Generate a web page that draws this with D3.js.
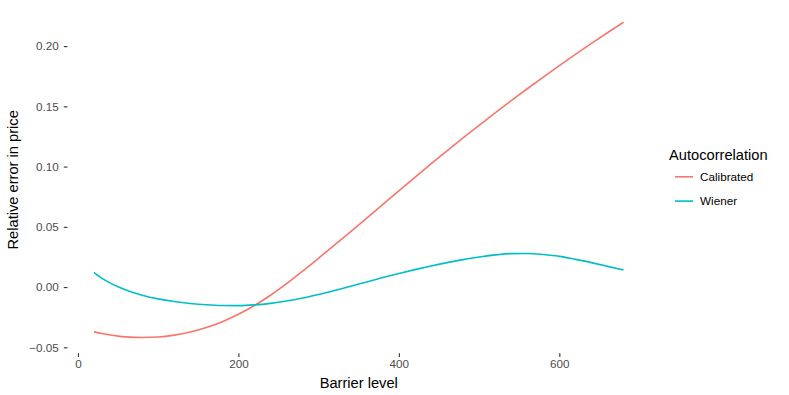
<!DOCTYPE html>
<html>
<head>
<meta charset="utf-8">
<script src="https://cdn.jsdelivr.net/npm/d3@7"></script>
<style>
  body { margin: 0; background: #fff; }
  svg { display: block; font-family: "Liberation Sans", Arial, Helvetica, sans-serif; }
</style>
</head>
<body>
<div id="chart"></div>
<script>
// Barrier levels (x) and relative price errors
const barrier = [20, 30, 40, 50, 60, 80, 100, 120, 140, 160, 180, 200, 220, 240, 260, 280, 300,
                 320, 340, 360, 380, 400, 420, 440, 460, 480, 500, 520, 540, 560, 580, 600,
                 620, 640, 660, 680];
const calibrated = [-0.0372, -0.0386, -0.0398, -0.0407, -0.0413, -0.0418, -0.0414, -0.0399, -0.0373,
                    -0.0336, -0.0287, -0.0226, -0.0153, -0.0068, 0.0028, 0.0132, 0.0240,
                    0.0350, 0.0461, 0.0573, 0.0686, 0.0799, 0.0911, 0.1022, 0.1131, 0.1238,
                    0.1343, 0.1446, 0.1547, 0.1646, 0.1743, 0.1838, 0.1931, 0.2022, 0.2111, 0.2198];
const wiener = [0.0122, 0.0072, 0.0035, 0.0003, -0.0025, -0.0067, -0.0098, -0.0120, -0.0136,
                -0.0147, -0.0153, -0.0154, -0.0148, -0.0135, -0.0116, -0.0091, -0.0061,
                -0.0028, 0.0007, 0.0043, 0.0079, 0.0113, 0.0145, 0.0175, 0.0203, 0.0228,
                0.0250, 0.0267, 0.0278, 0.0279, 0.0270, 0.0255, 0.0230, 0.0203, 0.0172, 0.0141];

const seriesNames = ["Calibrated", "Wiener"];
const seriesColors = ["#F8766D", "#00BFC4"];
const xTicks = [0, 200, 400, 600];
const yTicks = [-0.05, 0, 0.05, 0.10, 0.15, 0.20];

const width = 789, height = 395;
const panel = { left: 67.5, right: 650, top: 6.5, bottom: 353.2 };

const svg = d3.select("#chart").append("svg")
    .attr("width", width)
    .attr("height", height);

// ggplot-style 5% expansion on both axes
const expand = ([a, b]) => [a - (b - a) * 0.05, b + (b - a) * 0.05];

const xScale = d3.scaleLinear()
    .domain(expand(d3.extent(barrier)))
    .range([panel.left, panel.right]);

const yScale = d3.scaleLinear()
    .domain(expand(d3.extent(calibrated.concat(wiener))))
    .range([panel.bottom, panel.top]);

// Axes (no domain line, short grey ticks)
const xAxis = svg.append("g")
    .attr("transform", `translate(0,${panel.bottom})`)
    .call(d3.axisBottom(xScale).tickValues(xTicks).tickSize(3.7).tickPadding(3.1).tickSizeOuter(0));

const yAxis = svg.append("g")
    .attr("transform", `translate(${panel.left},0)`)
    .call(d3.axisLeft(yScale).tickValues(yTicks).tickFormat(d3.format(".2f")).tickSize(3.7).tickPadding(5).tickSizeOuter(0));

[xAxis, yAxis].forEach(ax => {
    ax.select(".domain").remove();
    ax.selectAll(".tick line").attr("stroke", "#333333").attr("stroke-width", 1.1);
    ax.selectAll(".tick text")
        .attr("fill", "#4D4D4D")
        .style("font-size", "11.7px")
        .style("font-family", "\"Liberation Sans\", Arial, sans-serif");
});

// Axis titles
svg.append("text")
    .attr("x", (panel.left + panel.right) / 2)
    .attr("y", 388)
    .attr("text-anchor", "middle")
    .style("font-size", "14.67px")
    .text("Barrier level");

svg.append("text")
    .attr("transform", `translate(18,${(panel.top + panel.bottom) / 2}) rotate(-90)`)
    .attr("text-anchor", "middle")
    .style("font-size", "14.67px")
    .text("Relative error in price");

// Lines
const line = d3.line()
    .x((d, i) => xScale(barrier[i]))
    .y(d => yScale(d))
    .curve(d3.curveMonotoneX);

[calibrated, wiener].forEach((values, k) => {
    svg.append("path")
        .datum(values)
        .attr("fill", "none")
        .attr("stroke", seriesColors[k])
        .attr("stroke-width", 1.6)
        .attr("d", line);
});

// Legend
const legend = svg.append("g").attr("transform", "translate(669,160)");

legend.append("text")
    .attr("x", 0)
    .attr("y", 0)
    .style("font-size", "14.67px")
    .text("Autocorrelation");

const items = legend.selectAll(".legend-item")
    .data(seriesNames)
    .enter().append("g")
    .attr("class", "legend-item")
    .attr("transform", (d, i) => `translate(0,${16.8 + i * 24.3})`);

items.append("line")
    .attr("x1", 6)
    .attr("x2", 24)
    .attr("stroke", (d, i) => seriesColors[i])
    .attr("stroke-width", 1.6);

items.append("text")
    .attr("x", 31)
    .attr("dy", "0.35em")
    .style("font-size", "11.7px")
    .text(d => d);
</script>
</body>
</html>
